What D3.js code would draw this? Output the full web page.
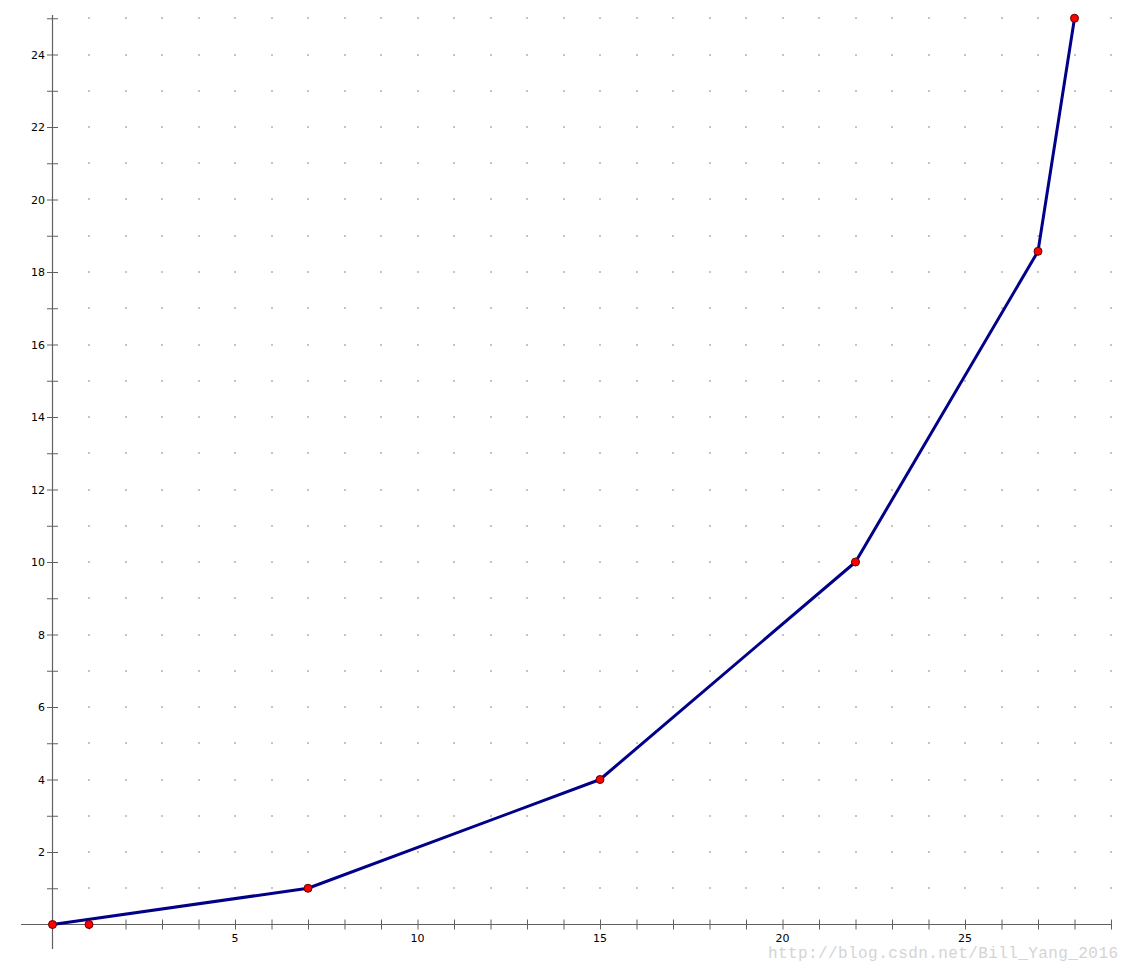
<!DOCTYPE html>
<html><head><meta charset="utf-8">
<script src="https://cdn.jsdelivr.net/npm/d3@7"></script>
<style>body{margin:0;background:#fff;}svg{display:block;}</style>
</head><body>
<svg id="c" width="1130" height="969"></svg>
<script>
const lineX = [0, 7, 15, 22, 27, 28];
const lineY = [0, 1, 4, 10, 18.57, 25];
const extraX = [1];
const extraY = [0];
const xTickValues = d3.range(0, 30);
const yTickValues = d3.range(0, 26);
const xLabelValues = [5, 10, 15, 20, 25];
const yLabelValues = [2, 4, 6, 8, 10, 12, 14, 16, 18, 20, 22, 24];
const watermark = "http://blog.csdn.net/Bill_Yang_2016";

const svg = d3.select("#c");
const x = d3.scaleLinear().domain([0, 25]).range([52.5, 965]);
const y = d3.scaleLinear().domain([0, 24]).range([924.5, 54.5]);

// grid dots
const gridPts = [];
for (const gx of xTickValues.filter(d => d > 0)) for (const gy of yTickValues.filter(d => d > 0)) gridPts.push([gx, gy]);
svg.append("g").selectAll("rect").data(gridPts).join("rect")
  .attr("x", d => Math.round(x(d[0])) - 1).attr("y", d => Math.round(y(d[1])) - 1)
  .attr("width", 2).attr("height", 2).attr("fill", "#c4c4c4");

const axisColor = "#606060";
// x axis
const gx = svg.append("g").attr("transform", `translate(0,${y(0)})`)
  .call(d3.axisBottom(x).tickValues(xTickValues.filter(d => d > 0)).tickFormat(() => "").tickSizeOuter(0));
gx.select(".domain").remove();
gx.selectAll(".tick line").attr("y1", -5).attr("y2", 5).attr("stroke", axisColor);
gx.append("line").attr("x1", 21).attr("x2", 1112).attr("stroke", axisColor).attr("stroke-width", 1.2);
svg.append("g").selectAll("text").data(xLabelValues).join("text")
  .attr("x", d => x(d)).attr("y", 942).attr("text-anchor", "middle")
  .attr("font-family", "DejaVu Sans, sans-serif").attr("font-size", 11).attr("fill", "#000")
  .text(d => d);

// y axis
const gy = svg.append("g").attr("transform", `translate(${x(0)},0)`)
  .call(d3.axisLeft(y).tickValues(yTickValues.filter(d => d > 0)).tickFormat(() => "").tickSizeOuter(0));
gy.select(".domain").remove();
gy.selectAll(".tick line").attr("x1", -5.5).attr("x2", 5.5).attr("stroke", axisColor);
gy.append("line").attr("y1", 15).attr("y2", 949).attr("stroke", axisColor).attr("stroke-width", 1.2);
svg.append("g").selectAll("text").data(yLabelValues).join("text")
  .attr("x", 45).attr("y", d => y(d) + 4).attr("text-anchor", "end")
  .attr("font-family", "DejaVu Sans, sans-serif").attr("font-size", 11).attr("fill", "#000")
  .text(d => d);

// line
const pts = lineX.map((v, i) => [v, lineY[i]]);
svg.append("path").datum(pts)
  .attr("d", d3.line().x(d => x(d[0])).y(d => y(d[1])))
  .attr("fill", "none").attr("stroke", "#000088").attr("stroke-width", 3).attr("stroke-linejoin", "round");

const allPts = pts.concat(extraX.map((v, i) => [v, extraY[i]]));
svg.append("g").selectAll("circle").data(allPts).join("circle")
  .attr("cx", d => x(d[0])).attr("cy", d => y(d[1])).attr("r", 4)
  .attr("fill", "#ff0000").attr("stroke", "#600000").attr("stroke-width", 1);

// watermark
svg.append("text").attr("x", 768).attr("y", 958).attr("textLength", 350)
  .attr("font-family", "Liberation Mono, monospace").attr("font-size", 16).attr("fill", "#d4d4d4")
  .text(watermark);
</script>
</body></html>
